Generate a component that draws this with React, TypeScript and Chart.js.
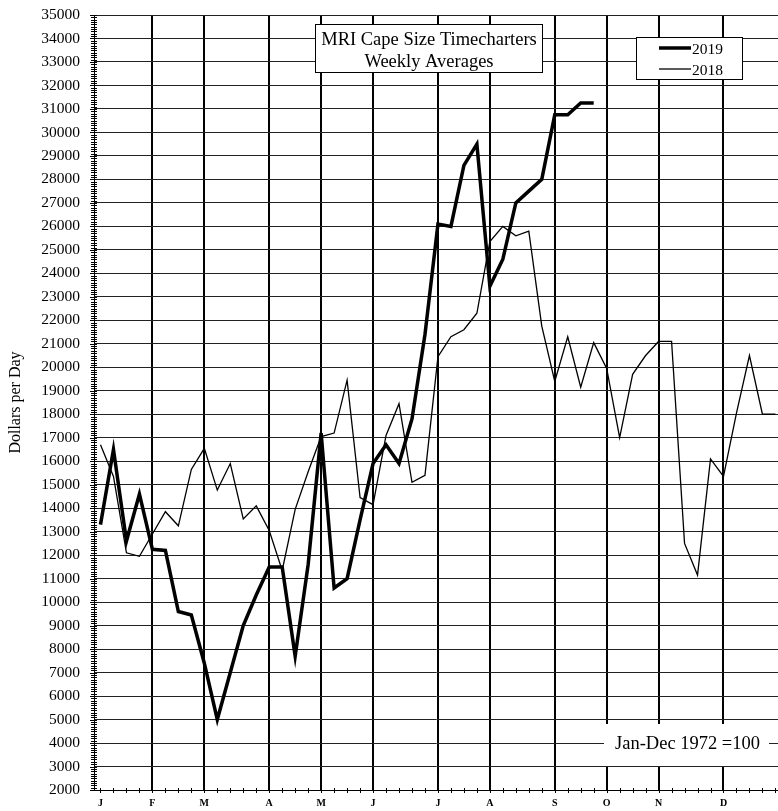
import React, { useEffect, useRef } from 'react';
import { Chart, registerables } from 'chart.js';

Chart.register(...registerables);

const SERIF = "'Liberation Serif', 'Times New Roman', Times, serif";

// Weekly averages, USD per day (week index 0 = first week of January)
const values2019 = [
  13300, 16500, 12600, 14600, 12250, 12200, 9600, 9450, 7400, 5000,
  7000, 9000, 10300, 11500, 11500, 7700, 11600, 17200, 10600, 11000,
  13500, 15900, 16700, 15900, 17800, 21400, 26100, 26000, 28600, 29500,
  23450, 24600, 27000, 27500, 28000, 30750, 30750, 31250, 31250,
];

const values2018 = [
  16700, 15350, 12100, 11950, 12900, 13850, 13250, 15650, 16550, 14770,
  15900, 13540, 14100, 13050, 11350, 13950, 15550, 17050, 17200, 19450,
  14450, 14150, 17100, 18450, 15100, 15400, 20450, 21300, 21600, 22300,
  25350, 26000, 25600, 25800, 21750, 19400, 21300, 19150, 21050, 19950,
  17000, 19700, 20500, 21100, 21100, 12500, 11150, 16100, 15350, 18050,
  20500, 18000, 18000,
];

const monthLabels = ['J', 'F', 'M', 'A', 'M', 'J', 'J', 'A', 'S', 'O', 'N', 'D'];
const monthStartWeeks = [0, 4, 8, 13, 17, 21, 26, 30, 35, 39, 43, 48];

const seriesLabels = ['2019', '2018'];
const titleLines = ['MRI Cape Size Timecharters', 'Weekly Averages'];
const baseNote = 'Jan-Dec 1972 =100';
const yAxisTitle = 'Dollars per Day';

const Y_MIN = 2000;
const Y_MAX = 35000;
const Y_STEP = 1000;
const Y_MINOR = 100;
const X_MIN = -0.5;
const X_MAX = 52.2;

const isMonthLine = (v: any) => typeof v === 'number' && v !== 0 && monthStartWeeks.includes(v);

const overlayPlugin = {
  id: 'overlay',
  afterDatasetsDraw(chart: any) {
    const ctx = chart.ctx as CanvasRenderingContext2D;
    const { left, right, bottom } = chart.chartArea;
    const xS = chart.scales.x;
    const yS = chart.scales.y;
    ctx.save();

    // minor ticks on the value axis
    ctx.strokeStyle = '#000';
    ctx.lineWidth = 1;
    ctx.beginPath();
    for (let v = Y_MIN; v <= Y_MAX; v += Y_MINOR) {
      const y = Math.round(yS.getPixelForValue(v)) + 0.5;
      const len = v % Y_STEP === 0 ? 4 : 3;
      ctx.moveTo(left - len, y);
      ctx.lineTo(left + 3, y);
    }
    // weekly ticks on the time axis
    for (let w = 0; w <= values2018.length; w++) {
      const px = xS.getPixelForValue(w);
      if (px > right) break;
      const x = Math.round(px) + 0.5;
      ctx.moveTo(x, bottom - 2);
      ctx.lineTo(x, bottom + 3);
    }
    ctx.stroke();

    // title box
    ctx.fillStyle = '#fff';
    ctx.fillRect(315.5, 24.5, 227, 48);
    ctx.strokeRect(315.5, 24.5, 227, 48);
    ctx.fillStyle = '#000';
    ctx.font = `18.5px ${SERIF}`;
    ctx.textAlign = 'center';
    ctx.textBaseline = 'alphabetic';
    ctx.fillText(titleLines[0], 429, 44.5);
    ctx.fillText(titleLines[1], 429, 67);

    // legend box
    ctx.fillStyle = '#fff';
    ctx.fillRect(636.5, 37.5, 106, 42);
    ctx.strokeRect(636.5, 37.5, 106, 42);
    ctx.strokeStyle = '#000';
    ctx.lineWidth = 3.5;
    ctx.beginPath();
    ctx.moveTo(659, 48);
    ctx.lineTo(691, 48);
    ctx.stroke();
    ctx.lineWidth = 1.3;
    ctx.beginPath();
    ctx.moveTo(659, 69);
    ctx.lineTo(691, 69);
    ctx.stroke();
    ctx.fillStyle = '#000';
    ctx.font = `15.5px ${SERIF}`;
    ctx.textAlign = 'left';
    ctx.fillText(seriesLabels[0], 692, 53.5);
    ctx.fillText(seriesLabels[1], 692, 74.5);

    // base note box
    ctx.fillStyle = '#fff';
    ctx.fillRect(604, 724, 165, 42);
    ctx.fillStyle = '#000';
    ctx.font = `18.5px ${SERIF}`;
    ctx.textAlign = 'left';
    ctx.fillText(baseNote, 615, 748.5);

    ctx.restore();
  },
};

export default function App() {
  const ref = useRef<HTMLCanvasElement>(null);

  useEffect(() => {
    const canvas = ref.current;
    if (!canvas) return;
    const chart = new Chart(canvas, {
      type: 'line',
      data: {
        datasets: [
          {
            label: seriesLabels[0],
            data: values2019.map((v, i) => ({ x: i, y: v })),
            borderColor: '#000',
            borderWidth: 3.5,
            pointRadius: 0,
            tension: 0,
            fill: false,
            borderCapStyle: 'butt',
            borderJoinStyle: 'miter',
          },
          {
            label: seriesLabels[1],
            data: values2018.map((v, i) => ({ x: i, y: v })),
            borderColor: '#000',
            borderWidth: 1.3,
            pointRadius: 0,
            tension: 0,
            fill: false,
            borderJoinStyle: 'miter',
          },
        ],
      },
      options: {
        responsive: false,
        animation: false,
        devicePixelRatio: 1,
        events: [],
        layout: { padding: { top: 15, left: 0, right: 0, bottom: 0 } },
        plugins: { legend: { display: false }, tooltip: { enabled: false } },
        scales: {
          x: {
            type: 'linear',
            min: X_MIN,
            max: X_MAX,
            bounds: 'data',
            border: { display: true, color: '#000', width: 1 },
            grid: {
              drawTicks: false,
              color: (c: any) => (isMonthLine(c.tick?.value) ? '#000' : 'rgba(0,0,0,0)'),
              lineWidth: (c: any) => (isMonthLine(c.tick?.value) ? 2 : 0),
            },
            ticks: {
              autoSkip: false,
              maxRotation: 0,
              minRotation: 0,
              padding: 7,
              color: '#000',
              font: { family: SERIF, size: 10, weight: 'bold' },
              callback: (v: any) => {
                const idx = monthStartWeeks.indexOf(Number(v));
                return idx >= 0 ? monthLabels[idx] : '';
              },
            },
            afterBuildTicks: (s: any) => {
              s.ticks = monthStartWeeks.map((w) => ({ value: w }));
            },
            afterFit: (s: any) => {
              s.height = 21;
              s.paddingLeft = 0;
              s.paddingRight = 0;
            },
          },
          y: {
            type: 'linear',
            min: Y_MIN,
            max: Y_MAX,
            border: { display: true, color: '#000', width: 1 },
            grid: { drawTicks: false, color: '#222', lineWidth: 1 },
            ticks: {
              stepSize: Y_STEP,
              autoSkip: false,
              maxTicksLimit: 200,
              padding: 14,
              color: '#000',
              font: { family: SERIF, size: 15.5 },
              callback: (v: any) => String(v),
            },
            title: {
              display: true,
              text: yAxisTitle,
              color: '#000',
              font: { family: SERIF, size: 16 },
              padding: { top: 6, bottom: 0 },
            },
            afterFit: (s: any) => {
              s.width = 94;
              s.paddingTop = 0;
              s.paddingBottom = 0;
            },
          },
        },
      } as any,
      plugins: [overlayPlugin],
    });
    return () => chart.destroy();
  }, []);

  return (
    <div style={{ position: 'fixed', left: 0, top: 0, width: 778, height: 811, background: '#fff' }}>
      <canvas ref={ref} width={778} height={811} style={{ display: 'block' }} />
    </div>
  );
}
